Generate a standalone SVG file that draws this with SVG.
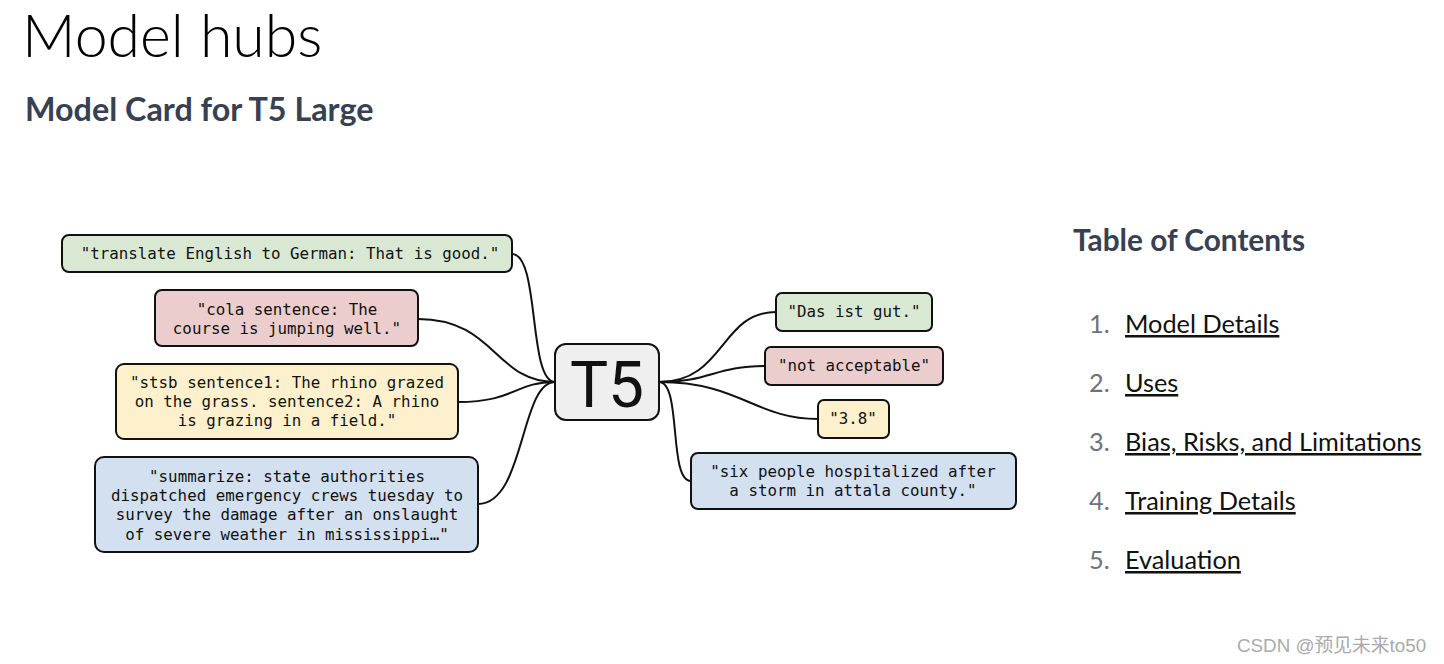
<svg xmlns="http://www.w3.org/2000/svg" width="1444" height="664" viewBox="0 0 1444 664">
<style>
.box{stroke:#111;stroke-width:2;}
.g{fill:#d9e8d3}.r{fill:#eacdcc}.y{fill:#fdf1cd}.b{fill:#d2e0f0}
.mono{font-family:"DejaVu Sans Mono","Liberation Mono",monospace;font-size:15.8px;fill:#111;text-anchor:middle;}
.con{fill:none;stroke:#111;stroke-width:2;}
.toc{font-family:"Source Sans Pro","Lato","Noto Sans",sans-serif;font-size:25.3px;}
.num{fill:#6b7280;}
.lnk{fill:#111;text-decoration:underline;}
</style>
<rect width="1444" height="664" fill="#fff"/>
<text x="22" y="57" font-family="Lato,'Noto Sans',sans-serif" font-weight="300" font-size="59" fill="#000">Model hubs</text>
<text x="25" y="121" font-family="'Source Sans Pro',Lato,'Noto Sans',sans-serif" font-weight="700" font-size="32.3" fill="#374151">Model Card for T5 Large</text>

<g id="connectors">
<path class="con" d="M512,254 C540,254 528,382 555,382"/>
<path class="con" d="M418,319 C495,319 495,382 555,382"/>
<path class="con" d="M458,402 C515,402 515,382 555,382"/>
<path class="con" d="M478,504 C525,504 520,382 555,382"/>
<path class="con" d="M659,382 C725,382 720,312 776,312"/>
<path class="con" d="M659,382 C710,382 715,366 765,366"/>
<path class="con" d="M659,382 C740,382 755,419 818,419"/>
<path class="con" d="M659,382 C682,382 668,481 691,481"/>
</g>

<g id="n-translate"><rect class="box g" x="62" y="235" width="450" height="37" rx="7"/><text class="mono" x="290" y="259">"translate English to German: That is good."</text></g>
<g id="n-cola"><rect class="box r" x="155" y="290" width="263" height="56" rx="7"/><text class="mono" x="287" y="315">"cola sentence: The</text><text class="mono" x="287" y="334">course is jumping well."</text></g>
<g id="n-stsb"><rect class="box y" x="116" y="364" width="342" height="75" rx="8"/><text class="mono" x="287" y="388">"stsb sentence1: The rhino grazed</text><text class="mono" x="287" y="407">on the grass. sentence2: A rhino</text><text class="mono" x="287" y="426">is grazing in a field."</text></g>
<g id="n-summarize"><rect class="box b" x="95" y="457" width="383" height="95" rx="9"/><text class="mono" x="287" y="482">"summarize: state authorities</text><text class="mono" x="287" y="501">dispatched emergency crews tuesday to</text><text class="mono" x="287" y="520">survey the damage after an onslaught</text><text class="mono" x="287" y="540">of severe weather in mississippi…"</text></g>

<g id="n-t5"><rect class="box" x="555" y="344" width="104" height="76" rx="11" fill="#efefef" stroke-width="2.5"/><text x="607" y="407" font-family="Roboto,'Liberation Sans',sans-serif" font-size="64" text-anchor="middle" fill="#111">T5</text></g>

<g id="n-das"><rect class="box g" x="776" y="293" width="156" height="38" rx="6"/><text class="mono" x="854" y="317">"Das ist gut."</text></g>
<g id="n-not"><rect class="box r" x="765" y="347" width="178" height="38" rx="6"/><text class="mono" x="854" y="371">"not acceptable"</text></g>
<g id="n-38"><rect class="box y" x="818" y="400" width="71" height="38" rx="6"/><text class="mono" x="853" y="424">"3.8"</text></g>
<g id="n-six"><rect class="box b" x="691" y="453" width="325" height="56" rx="7"/><text class="mono" x="853" y="477">"six people hospitalized after</text><text class="mono" x="853" y="496">a storm in attala county."</text></g>

<g id="toc">
<text x="1073" y="251" font-family="'Source Sans Pro',Lato,'Noto Sans',sans-serif" font-weight="700" font-size="29.8" fill="#374151">Table of Contents</text>
<text class="toc num" x="1089" y="333">1.</text><text class="toc lnk" x="1125" y="333">Model Details</text>
<text class="toc num" x="1089" y="392">2.</text><text class="toc lnk" x="1125" y="392">Uses</text>
<text class="toc num" x="1089" y="451">3.</text><text class="toc lnk" x="1125" y="451">Bias, Risks, and Limitations</text>
<text class="toc num" x="1089" y="510">4.</text><text class="toc lnk" x="1125" y="510">Training Details</text>
<text class="toc num" x="1089" y="569">5.</text><text class="toc lnk" x="1125" y="569">Evaluation</text>
</g>
<text x="1237" y="652" font-family="'Liberation Sans','Noto Sans CJK SC',sans-serif" font-size="18.8" fill="#aaa">CSDN @预见未来to50</text>
</svg>
